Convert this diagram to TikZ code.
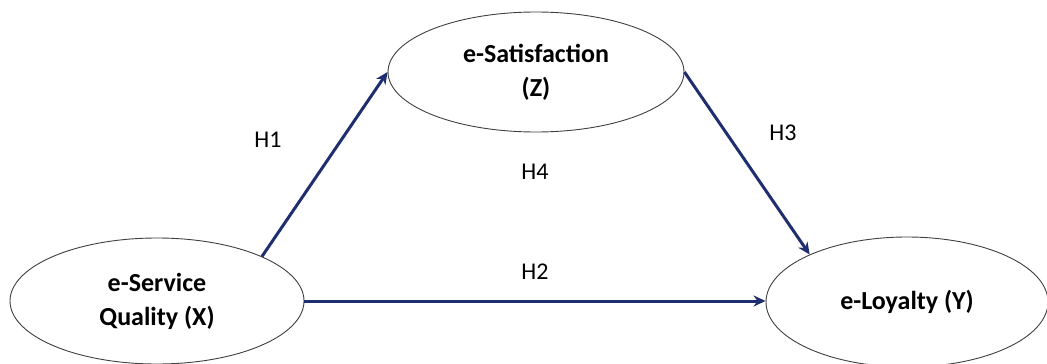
\documentclass[tikz,border=0pt]{standalone}
\usepackage{fontspec}
\setmainfont{Carlito}
\usetikzlibrary{shapes.geometric,arrows.meta}
\definecolor{navy}{HTML}{1F2E6E}
\tikzset{
  construct/.style={ellipse, draw=black!75, line width=0.9pt, fill=white, align=center,
    font=\fontsize{26}{34}\selectfont\bfseries, inner sep=0pt},
  path/.style={draw=navy, line width=3pt, -{Stealth[length=12pt,width=11pt]}},
  hyp/.style={font=\fontsize{24}{28}\selectfont}
}
\begin{document}
\begin{tikzpicture}[x=1pt,y=-1pt]
\useasboundingbox (0,0) rectangle (1047,364);
\clip (0,0) rectangle (1047,364);
\fill[white] (0,0) rectangle (1047,364);
\node[construct, minimum width=294pt, minimum height=126pt] (X) at (157,301) {e-Service\\Quality (X)};
\node[construct, minimum width=296pt, minimum height=120pt] (Z) at (536,72) {e-Satisfaction\\(Z)};
\node[construct, minimum width=282pt, minimum height=130pt] (Y) at (907,302) {e-Loyalty (Y)};
\draw[path] (X.23) -- (Z.west);
\draw[path] (Z.east) -- (Y.154);
\draw[path] (X.east) -- (X.east -| Y.west);
\node[hyp] (h1) at (268,140) {H1};
\node[hyp] (h3) at (783,133) {H3};
\node[hyp] (h4) at (535,172) {H4};
\node[hyp] (h2) at (535,272) {H2};
\end{tikzpicture}
\end{document}
